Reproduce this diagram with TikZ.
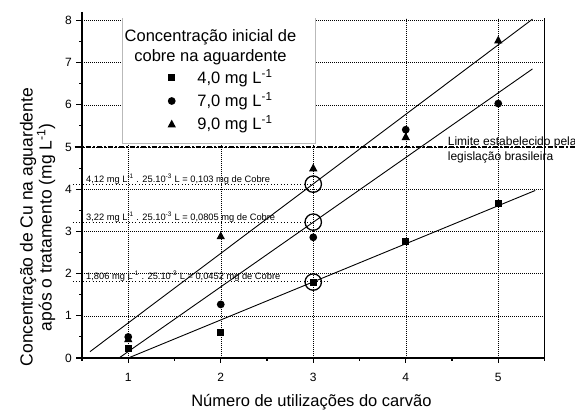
\documentclass[tikz,border=0pt]{standalone}
\usepackage{fontspec}
\setmainfont{Liberation Sans}
\begin{document}
\begin{tikzpicture}[x=92.5pt,y=42.2pt,
  gridline/.style={black,line width=0.5pt,dash pattern=on 0.6pt off 1.4pt},
  guideline/.style={black,line width=0.9pt,dash pattern=on 0.9pt off 2.4pt},
  limitline/.style={black,line width=1.3pt,dash pattern=on 5.5pt off 2pt on 1.5pt off 2pt},
  fitline/.style={black,line width=0.9pt},
  axisline/.style={black,line width=1.1pt},
  ring/.style={black,line width=1.3pt},
  ticklabel/.style={inner sep=0pt,font=\fontsize{12}{14}\selectfont},
  titlelabel/.style={inner sep=0pt,font=\fontsize{16.5}{19}\selectfont},
  ylabel/.style={inner sep=0pt,font=\fontsize{17.5}{20}\selectfont},
  notelabel/.style={inner sep=0pt,font=\fontsize{9.3}{11}\selectfont},
  limitlabel/.style={inner sep=0pt,font=\fontsize{12}{14}\selectfont}]
 \useasboundingbox (-0.3865,-1.2322) rectangle (5.8297,8.4834);
 % grid
 \foreach \gx in {1,...,5} \draw[gridline] (\gx,0)--(\gx,8.057);
 \foreach \gy in {1,...,8} \draw[gridline] (0.5,\gy)--(5.5,\gy);
 % legend box
 \fill[white] (0.94,5.09) rectangle (3.02,8.057);
 \draw[gray!55,line width=0.5pt] (0.94,8.057)--(0.94,5.09)--(3.02,5.09)--(3.02,8.057);
 % guides and limit
 \draw[guideline] (0.4,4.12)--(3,4.12);
 \draw[guideline] (0.4,3.22)--(3,3.22);
 \draw[guideline] (0.4,1.806)--(3.15,1.806);
 \draw[limitline] (0.42,5)--(5.83,5);
 % fits
 \draw[fitline] (1,0)--(5.4,3.97);
 \draw[fitline] (0.9,0)--(5.37,6.85);
 \draw[fitline] (0.586,0.15)--(5.37,8.03);
 % data
 \foreach \px/\py in {1/0.45,2/2.89,3/4.5,4/5.24,5/7.53}
   \fill (\px,\py) ++(0,4.6pt) -- ++(-4.2pt,-7.8pt) -- ++(8.4pt,0) -- cycle;
 \foreach \px/\py in {1/0.5,2/1.27,3/2.86,4/5.41,5/6.03}
   \fill (\px,\py) circle (3.9pt);
 \foreach \px/\py in {1/0.22,2/0.6,3/1.78,4/2.76,5/3.66}
   \fill (\px,\py) ++(-3.5pt,-3.5pt) rectangle ++(7pt,7pt);
 \foreach \py in {4.12,3.22,1.8} \draw[ring] (3,\py) circle (8.2pt);
 % axes
 \draw[axisline] (0.5,8.2)--(0.5,0)--(5.5,0)--(5.5,8.05);
 \foreach \ty in {0,...,8} \draw[axisline] (0.5,\ty)--++(-6pt,0);
 \foreach \ty in {0.5,1.5,...,7.5} \draw[axisline] (0.5,\ty)--++(-3pt,0);
 \foreach \tx in {1,...,5} \draw[axisline] (\tx,0)--++(0,-5pt);
 \foreach \tx in {0.5,1.5,...,5.5} \draw[axisline] (\tx,0)--++(0,-3pt);
 \foreach \ty in {0,...,8} \node[ticklabel,anchor=east] (ylab\ty) at (0.392,\ty) {\ty};
 \foreach \tx in {1,...,5} \node[ticklabel,anchor=base] (xlab\tx) at (\tx,-0.562) {\tx};
 % titles
 \node[titlelabel,anchor=base] (xtitle) at (2.98,-1.154) {Número de utilizações do carvão};
 \node[ylabel,anchor=base,rotate=90] (ytitle1) at (-0.035,3.1) {Concentração de Cu na aguardente};
 \node[ylabel,anchor=base,rotate=90] (ytitle2) at (0.172,3.1) {após o tratamento (mg L\textsuperscript{-1})};
 % legend
 \node[titlelabel,anchor=base] (legtitle1) at (1.889,7.495) {Concentração inicial de};
 \node[titlelabel,anchor=base] (legtitle2) at (1.889,7.026) {cobre na aguardente};
 \fill (1.47,6.65) ++(-3.5pt,-3.5pt) rectangle ++(7pt,7pt);
 \fill (1.47,6.09) circle (3.9pt);
 \fill (1.47,5.54) ++(0,4.6pt) -- ++(-4.2pt,-7.8pt) -- ++(8.4pt,0) -- cycle;
 \node[titlelabel,anchor=base west] (legsq) at (1.746,6.509) {4,0 mg L\textsuperscript{-1}};
 \node[titlelabel,anchor=base west] (legci) at (1.746,5.955) {7,0 mg L\textsuperscript{-1}};
 \node[titlelabel,anchor=base west] (legtr) at (1.746,5.403) {9,0 mg L\textsuperscript{-1}};
 % notes
 \node[notelabel,anchor=base west] (note1) at (0.543,4.17) {4,12 mg L\textsuperscript{-1} . 25.10\textsuperscript{-3} L = 0,103 mg de Cobre};
 \node[notelabel,anchor=base west] (note2) at (0.543,3.26) {3,22 mg L\textsuperscript{-1} . 25.10\textsuperscript{-3} L = 0,0805 mg de Cobre};
 \node[notelabel,anchor=base west] (note3) at (0.543,1.86) {1,806 mg L\textsuperscript{-1} . 25.10\textsuperscript{-3} L = 0,0452 mg de Cobre};
 \node[limitlabel,anchor=base west] (limit1) at (4.453,5.024) {Limite estabelecido pela};
 \node[limitlabel,anchor=base west] (limit2) at (4.453,4.675) {legislação brasileira};
\end{tikzpicture}
\end{document}
